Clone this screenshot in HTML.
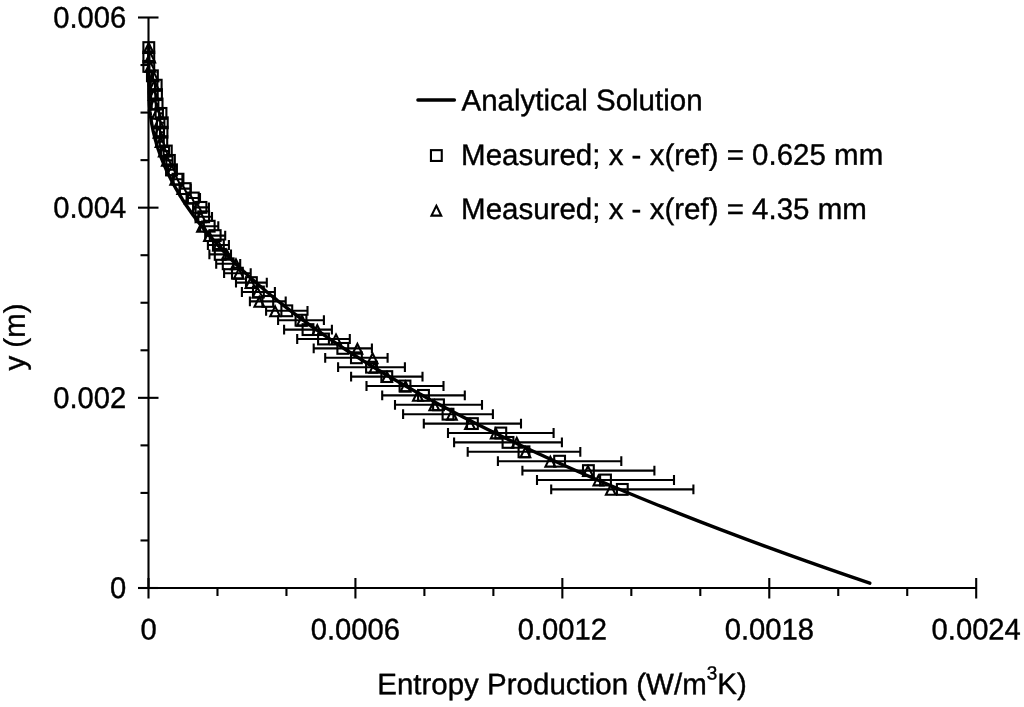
<!DOCTYPE html>
<html lang="en"><head><meta charset="utf-8"><title>Entropy Production</title>
<style>html,body{margin:0;padding:0;background:#fff}body{width:1024px;height:707px;overflow:hidden}</style>
</head><body>
<svg width="1024" height="707" viewBox="0 0 1024 707" style="display:block;will-change:transform;transform:translateZ(0)">
<rect width="1024" height="707" fill="#fff"/>
<g stroke="#000" stroke-width="2.1" fill="none" stroke-linecap="butt">
<line x1="148.5" y1="17.5" x2="148.5" y2="588.0"/>
<line x1="148.5" y1="588.0" x2="976.2" y2="588.0"/>
<line x1="138.0" y1="588.0" x2="158.5" y2="588.0"/>
<line x1="140.5" y1="540.4583333333334" x2="148.5" y2="540.4583333333334"/>
<line x1="140.5" y1="492.9166666666667" x2="148.5" y2="492.9166666666667"/>
<line x1="140.5" y1="445.375" x2="148.5" y2="445.375"/>
<line x1="138.0" y1="397.83333333333337" x2="158.5" y2="397.83333333333337"/>
<line x1="140.5" y1="350.29166666666663" x2="148.5" y2="350.29166666666663"/>
<line x1="140.5" y1="302.75" x2="148.5" y2="302.75"/>
<line x1="140.5" y1="255.20833333333331" x2="148.5" y2="255.20833333333331"/>
<line x1="138.0" y1="207.66666666666669" x2="158.5" y2="207.66666666666669"/>
<line x1="140.5" y1="160.125" x2="148.5" y2="160.125"/>
<line x1="140.5" y1="112.58333333333331" x2="148.5" y2="112.58333333333331"/>
<line x1="140.5" y1="65.04166666666663" x2="148.5" y2="65.04166666666663"/>
<line x1="138.0" y1="17.5" x2="158.5" y2="17.5"/>
<line x1="148.5" y1="578.0" x2="148.5" y2="598.5"/>
<line x1="217.47500000000002" y1="588.0" x2="217.47500000000002" y2="596.0"/>
<line x1="286.45000000000005" y1="588.0" x2="286.45000000000005" y2="596.0"/>
<line x1="355.42500000000007" y1="578.0" x2="355.42500000000007" y2="598.5"/>
<line x1="424.40000000000003" y1="588.0" x2="424.40000000000003" y2="596.0"/>
<line x1="493.375" y1="588.0" x2="493.375" y2="596.0"/>
<line x1="562.3500000000001" y1="578.0" x2="562.3500000000001" y2="598.5"/>
<line x1="631.325" y1="588.0" x2="631.325" y2="596.0"/>
<line x1="700.3000000000001" y1="588.0" x2="700.3000000000001" y2="596.0"/>
<line x1="769.275" y1="578.0" x2="769.275" y2="598.5"/>
<line x1="838.25" y1="588.0" x2="838.25" y2="596.0"/>
<line x1="907.225" y1="588.0" x2="907.225" y2="596.0"/>
<line x1="976.2000000000002" y1="578.0" x2="976.2000000000002" y2="598.5"/>
</g>
<g stroke="#000" stroke-width="2.1" fill="none">
<path d="M551.2 489.4H693.4M551.2 484.5v9.8M693.4 484.5v9.8"/>
<path d="M537.0 480.0H674.0M537.0 475.1v9.8M674.0 475.1v9.8"/>
<path d="M522.4 470.6H654.4M522.4 465.7v9.8M654.4 465.7v9.8"/>
<path d="M497.9 461.2H621.3M497.9 456.3v9.8M621.3 456.3v9.8"/>
<path d="M467.7 451.8H580.3M467.7 446.9v9.8M580.3 446.9v9.8"/>
<path d="M454.1 442.4H561.9M454.1 437.5v9.8M561.9 437.5v9.8"/>
<path d="M448.0 433.0H553.6M448.0 428.1v9.8M553.6 428.1v9.8"/>
<path d="M423.8 423.6H521.0M423.8 418.7v9.8M521.0 418.7v9.8"/>
<path d="M403.1 414.2H492.9M403.1 409.3v9.8M492.9 409.3v9.8"/>
<path d="M395.0 404.8H482.0M395.0 399.9v9.8M482.0 399.9v9.8"/>
<path d="M382.2 395.4H464.8M382.2 390.5v9.8M464.8 390.5v9.8"/>
<path d="M366.5 386.0H443.5M366.5 381.1v9.8M443.5 381.1v9.8"/>
<path d="M351.1 376.6H422.5M351.1 371.7v9.8M422.5 371.7v9.8"/>
<path d="M338.1 367.2H404.9M338.1 362.3v9.8M404.9 362.3v9.8"/>
<path d="M325.2 357.8H387.6M325.2 352.9v9.8M387.6 352.9v9.8"/>
<path d="M313.7 348.4H371.9M313.7 343.5v9.8M371.9 343.5v9.8"/>
<path d="M297.2 339.0H349.8M297.2 334.1v9.8M349.8 334.1v9.8"/>
<path d="M284.1 329.6H331.9M284.1 324.7v9.8M331.9 324.7v9.8"/>
<path d="M278.1 320.2H323.9M278.1 315.3v9.8M323.9 315.3v9.8"/>
<path d="M266.1 310.8H307.5M266.1 305.9v9.8M307.5 305.9v9.8"/>
<path d="M249.9 301.4H285.7M249.9 296.5v9.8M285.7 296.5v9.8"/>
<path d="M241.9 292.0H274.9M241.9 287.1v9.8M274.9 287.1v9.8"/>
<path d="M236.0 282.6H266.8M236.0 277.7v9.8M266.8 277.7v9.8"/>
<path d="M224.1 273.2H250.7M224.1 268.3v9.8M250.7 268.3v9.8"/>
<path d="M216.2 263.8H240.2M216.2 258.9v9.8M240.2 258.9v9.8"/>
<path d="M209.4 254.4H231.0M209.4 249.5v9.8M231.0 249.5v9.8"/>
<path d="M207.9 245.0H228.9M207.9 240.1v9.8M228.9 240.1v9.8"/>
<path d="M205.2 235.6H225.2M205.2 230.7v9.8M225.2 230.7v9.8"/>
<path d="M200.1 226.2H218.3M200.1 221.3v9.8M218.3 221.3v9.8"/>
<path d="M195.4 216.8H212.0M195.4 211.9v9.8M212.0 211.9v9.8"/>
<path d="M193.1 207.4H208.9M193.1 202.5v9.8M208.9 202.5v9.8"/>
<path d="M186.6 198.0H200.0M186.6 193.1v9.8M200.0 193.1v9.8"/>
<path d="M179.7 188.6H190.7M179.7 183.7v9.8M190.7 183.7v9.8"/>
<path d="M173.6 179.2H182.4M173.6 174.3v9.8M182.4 174.3v9.8"/>
<path d="M168.1 169.8H174.9M168.1 164.9v9.8M174.9 164.9v9.8"/>
<path d="M166.3 160.4H172.5M166.3 155.5v9.8M172.5 155.5v9.8"/>
<path d="M163.6 151.0H169.0M163.6 146.1v9.8M169.0 146.1v9.8"/>
<path d="M159.8 141.6H163.8M159.8 136.7v9.8M163.8 136.7v9.8"/>
<path d="M160.0 132.2H164.0M160.0 127.3v9.8M164.0 127.3v9.8"/>
<path d="M160.2 122.8H164.4M160.2 117.9v9.8M164.4 117.9v9.8"/>
<path d="M159.1 113.4H162.9M159.1 108.5v9.8M162.9 108.5v9.8"/>
<path d="M155.8 104.0H158.4M155.8 99.1v9.8M158.4 99.1v9.8"/>
<path d="M155.3 94.6H157.7M155.3 89.7v9.8M157.7 89.7v9.8"/>
<path d="M155.0 85.2H157.4M155.0 80.3v9.8M157.4 80.3v9.8"/>
<path d="M151.8 75.8H153.0M151.8 70.9v9.8M153.0 70.9v9.8"/>
</g>
<g stroke="#000" stroke-width="2.1" fill="none" stroke-linejoin="miter">
<rect x="616.90" y="484.00" width="10.8" height="10.8"/>
<rect x="600.10" y="474.60" width="10.8" height="10.8"/>
<rect x="583.00" y="465.20" width="10.8" height="10.8"/>
<rect x="554.20" y="455.80" width="10.8" height="10.8"/>
<rect x="518.60" y="446.40" width="10.8" height="10.8"/>
<rect x="502.60" y="437.00" width="10.8" height="10.8"/>
<rect x="495.40" y="427.60" width="10.8" height="10.8"/>
<rect x="467.00" y="418.20" width="10.8" height="10.8"/>
<rect x="442.60" y="408.80" width="10.8" height="10.8"/>
<rect x="433.10" y="399.40" width="10.8" height="10.8"/>
<rect x="418.10" y="390.00" width="10.8" height="10.8"/>
<rect x="399.60" y="380.60" width="10.8" height="10.8"/>
<rect x="381.40" y="371.20" width="10.8" height="10.8"/>
<rect x="366.10" y="361.80" width="10.8" height="10.8"/>
<rect x="351.00" y="352.40" width="10.8" height="10.8"/>
<rect x="337.40" y="343.00" width="10.8" height="10.8"/>
<rect x="318.10" y="333.60" width="10.8" height="10.8"/>
<rect x="302.60" y="324.20" width="10.8" height="10.8"/>
<rect x="295.60" y="314.80" width="10.8" height="10.8"/>
<rect x="281.40" y="305.40" width="10.8" height="10.8"/>
<rect x="262.40" y="296.00" width="10.8" height="10.8"/>
<rect x="253.00" y="286.60" width="10.8" height="10.8"/>
<rect x="246.00" y="277.20" width="10.8" height="10.8"/>
<rect x="232.00" y="267.80" width="10.8" height="10.8"/>
<rect x="222.80" y="258.40" width="10.8" height="10.8"/>
<rect x="214.80" y="249.00" width="10.8" height="10.8"/>
<rect x="213.00" y="239.60" width="10.8" height="10.8"/>
<rect x="209.80" y="230.20" width="10.8" height="10.8"/>
<rect x="203.80" y="220.80" width="10.8" height="10.8"/>
<rect x="198.30" y="211.40" width="10.8" height="10.8"/>
<rect x="195.60" y="202.00" width="10.8" height="10.8"/>
<rect x="187.90" y="192.60" width="10.8" height="10.8"/>
<rect x="179.80" y="183.20" width="10.8" height="10.8"/>
<rect x="172.60" y="173.80" width="10.8" height="10.8"/>
<rect x="166.10" y="164.40" width="10.8" height="10.8"/>
<rect x="164.00" y="155.00" width="10.8" height="10.8"/>
<rect x="160.90" y="145.60" width="10.8" height="10.8"/>
<rect x="156.40" y="136.20" width="10.8" height="10.8"/>
<rect x="156.60" y="126.80" width="10.8" height="10.8"/>
<rect x="156.90" y="117.40" width="10.8" height="10.8"/>
<rect x="155.60" y="108.00" width="10.8" height="10.8"/>
<rect x="151.70" y="98.60" width="10.8" height="10.8"/>
<rect x="151.10" y="89.20" width="10.8" height="10.8"/>
<rect x="150.80" y="79.80" width="10.8" height="10.8"/>
<rect x="147.00" y="70.40" width="10.8" height="10.8"/>
<rect x="143.40" y="61.00" width="10.8" height="10.8"/>
<rect x="143.40" y="51.60" width="10.8" height="10.8"/>
<rect x="143.40" y="42.20" width="10.8" height="10.8"/>
<path d="M610.80 484.98L615.67 494.80H605.93Z"/>
<path d="M598.40 475.58L603.27 485.40H593.53Z"/>
<path d="M588.00 466.18L592.87 476.00H583.13Z"/>
<path d="M550.30 456.78L555.17 466.60H545.43Z"/>
<path d="M525.40 447.38L530.27 457.20H520.53Z"/>
<path d="M516.80 437.98L521.67 447.80H511.93Z"/>
<path d="M495.70 428.58L500.57 438.40H490.83Z"/>
<path d="M470.00 419.18L474.87 429.00H465.13Z"/>
<path d="M451.90 409.78L456.77 419.60H447.03Z"/>
<path d="M434.30 400.38L439.17 410.20H429.43Z"/>
<path d="M417.90 390.98L422.77 400.80H413.03Z"/>
<path d="M405.50 381.58L410.37 391.40H400.63Z"/>
<path d="M387.00 372.18L391.87 382.00H382.13Z"/>
<path d="M374.50 362.78L379.37 372.60H369.63Z"/>
<path d="M372.60 353.38L377.47 363.20H367.73Z"/>
<path d="M357.40 343.98L362.27 353.80H352.53Z"/>
<path d="M336.00 334.58L340.87 344.40H331.13Z"/>
<path d="M317.30 325.18L322.17 335.00H312.43Z"/>
<path d="M302.00 315.78L306.87 325.60H297.13Z"/>
<path d="M275.10 306.38L279.97 316.20H270.23Z"/>
<path d="M259.30 296.98L264.17 306.80H254.43Z"/>
<path d="M257.50 287.58L262.37 297.40H252.63Z"/>
<path d="M250.50 278.18L255.37 288.00H245.63Z"/>
<path d="M238.80 268.78L243.67 278.60H233.93Z"/>
<path d="M235.99 259.38L240.86 269.20H231.12Z"/>
<path d="M226.83 249.98L231.70 259.80H221.96Z"/>
<path d="M218.11 240.58L222.98 250.40H213.24Z"/>
<path d="M209.00 231.18L213.87 241.00H204.13Z"/>
<path d="M201.99 221.78L206.86 231.60H197.12Z"/>
<path d="M200.71 212.38L205.58 222.20H195.84Z"/>
<path d="M196.93 202.98L201.80 212.80H192.06Z"/>
<path d="M189.76 193.58L194.63 203.40H184.89Z"/>
<path d="M182.23 184.18L187.10 194.00H177.36Z"/>
<path d="M175.22 174.78L180.09 184.60H170.35Z"/>
<path d="M171.80 165.38L176.67 175.20H166.93Z"/>
<path d="M166.84 155.98L171.71 165.80H161.97Z"/>
<path d="M163.78 146.58L168.65 156.40H158.91Z"/>
<path d="M160.56 137.18L165.43 147.00H155.69Z"/>
<path d="M158.55 127.78L163.42 137.60H153.68Z"/>
<path d="M158.89 118.38L163.76 128.20H154.02Z"/>
<path d="M156.92 108.98L161.79 118.80H152.05Z"/>
<path d="M154.00 99.58L158.87 109.40H149.13Z"/>
<path d="M153.69 90.18L158.56 100.00H148.82Z"/>
<path d="M154.34 80.78L159.21 90.60H149.47Z"/>
<path d="M153.40 71.38L158.27 81.20H148.53Z"/>
<path d="M150.40 61.98L155.27 71.80H145.53Z"/>
<path d="M150.20 52.58L155.07 62.40H145.33Z"/>
<path d="M148.70 43.18L153.57 53.00H143.83Z"/>
</g>
<path d="M148.8 45.2 L148.8 47.2 L148.8 49.2 L148.8 51.2 L148.8 53.2 L148.8 55.2 L148.8 57.2 L148.8 59.2 L148.8 61.2 L148.8 63.2 L148.8 65.2 L148.8 67.2 L148.8 69.2 L148.8 71.2 L148.8 73.2 L148.8 75.2 L148.8 77.2 L148.8 79.2 L148.8 81.2 L148.8 83.2 L148.8 85.2 L148.9 87.2 L148.9 89.2 L148.9 91.2 L148.9 93.2 L149.0 95.2 L149.0 97.2 L149.1 99.2 L149.2 101.2 L149.3 103.2 L149.4 105.2 L149.6 107.2 L149.8 109.2 L149.9 111.2 L150.2 113.2 L150.4 115.2 L150.7 117.2 L151.0 119.2 L151.3 121.2 L151.6 123.2 L152.0 125.2 L152.4 127.2 L152.8 129.2 L153.2 131.2 L153.7 133.2 L154.2 135.2 L154.7 137.2 L155.2 139.2 L155.8 141.2 L156.3 143.2 L156.9 145.2 L157.6 147.2 L158.2 149.2 L158.9 151.2 L159.6 153.2 L160.3 155.2 L161.1 157.2 L161.8 159.2 L162.6 161.2 L163.4 163.2 L164.3 165.2 L165.2 167.2 L166.0 169.2 L167.0 171.2 L167.9 173.2 L168.9 175.2 L169.9 177.2 L170.9 179.2 L171.9 181.2 L173.0 183.2 L174.1 185.2 L175.2 187.2 L176.3 189.2 L177.5 191.2 L178.6 193.2 L179.8 195.2 L181.1 197.2 L182.3 199.2 L183.6 201.2 L184.9 203.2 L186.2 205.2 L187.6 207.2 L189.0 209.2 L190.4 211.2 L191.8 213.2 L193.2 215.2 L194.7 217.2 L196.2 219.2 L197.7 221.2 L199.3 223.2 L200.8 225.2 L202.4 227.2 L204.0 229.2 L205.7 231.2 L207.3 233.2 L209.0 235.2 L210.7 237.2 L212.5 239.2 L214.2 241.2 L216.0 243.2 L217.8 245.2 L219.7 247.2 L221.5 249.2 L223.4 251.2 L225.3 253.2 L227.2 255.2 L229.2 257.2 L231.2 259.2 L233.2 261.2 L235.2 263.2 L237.2 265.2 L239.3 267.2 L241.4 269.2 L243.5 271.2 L245.7 273.2 L247.8 275.2 L250.0 277.2 L252.2 279.2 L254.5 281.2 L256.8 283.2 L259.0 285.2 L261.4 287.2 L263.7 289.2 L266.1 291.2 L268.5 293.2 L270.9 295.2 L273.3 297.2 L275.8 299.2 L278.2 301.2 L280.8 303.2 L283.3 305.2 L285.8 307.2 L288.4 309.2 L291.0 311.2 L293.7 313.2 L296.3 315.2 L299.0 317.2 L301.7 319.2 L304.4 321.2 L307.2 323.2 L309.9 325.2 L312.7 327.2 L315.5 329.2 L318.4 331.2 L321.3 333.2 L324.2 335.2 L327.1 337.2 L330.0 339.2 L333.0 341.2 L336.0 343.2 L339.0 345.2 L342.0 347.2 L345.1 349.2 L348.2 351.2 L351.3 353.2 L354.4 355.2 L357.6 357.2 L360.8 359.2 L364.0 361.2 L367.2 363.2 L370.4 365.2 L373.7 367.2 L377.0 369.2 L380.4 371.2 L383.7 373.2 L387.1 375.2 L390.5 377.2 L393.9 379.2 L397.4 381.2 L400.8 383.2 L404.3 385.2 L407.8 387.2 L411.4 389.2 L415.0 391.2 L418.6 393.2 L422.2 395.2 L425.8 397.2 L429.5 399.2 L433.2 401.2 L436.9 403.2 L440.6 405.2 L444.4 407.2 L448.2 409.2 L452.0 411.2 L455.8 413.2 L459.7 415.2 L463.5 417.2 L467.5 419.2 L471.4 421.2 L475.3 423.2 L479.3 425.2 L483.3 427.2 L487.3 429.2 L491.4 431.2 L495.5 433.2 L499.6 435.2 L503.7 437.2 L507.8 439.2 L512.0 441.2 L516.2 443.2 L520.4 445.2 L524.7 447.2 L528.9 449.2 L533.2 451.2 L537.5 453.2 L541.9 455.2 L546.2 457.2 L550.6 459.2 L555.0 461.2 L559.5 463.2 L563.9 465.2 L568.4 467.2 L572.9 469.2 L577.5 471.2 L582.0 473.2 L586.6 475.2 L591.2 477.2 L595.8 479.2 L600.5 481.2 L605.2 483.2 L609.9 485.2 L614.6 487.2 L619.4 489.2 L624.1 491.2 L628.9 493.2 L633.8 495.2 L638.6 497.2 L643.5 499.2 L648.4 501.2 L653.3 503.2 L658.2 505.2 L663.2 507.2 L668.2 509.2 L673.2 511.2 L678.2 513.2 L683.3 515.2 L688.4 517.2 L693.5 519.2 L698.6 521.2 L703.8 523.2 L709.0 525.2 L714.2 527.2 L719.4 529.2 L724.7 531.2 L730.0 533.2 L735.3 535.2 L740.6 537.2 L745.9 539.2 L751.3 541.2 L756.7 543.2 L762.1 545.2 L767.6 547.2 L773.1 549.2 L778.6 551.2 L784.1 553.2 L789.6 555.2 L795.2 557.2 L800.8 559.2 L806.4 561.2 L812.1 563.2 L817.7 565.2 L823.4 567.2 L829.1 569.2 L834.9 571.2 L840.6 573.2 L846.4 575.2 L852.2 577.2 L858.1 579.2 L863.9 581.2 L869.8 583.2" stroke="#000" stroke-width="3.4" fill="none" stroke-linejoin="round" stroke-linecap="round"/>
<line x1="417.9" y1="100" x2="454.4" y2="100" stroke="#000" stroke-width="3.4" stroke-linecap="round"/>
<rect x="430.95" y="150.15" width="10.8" height="10.8" stroke="#000" stroke-width="2.1" fill="none"/>
<path d="M436.35 205.8L441.22 215.65H431.48Z" stroke="#000" stroke-width="2.1" fill="none"/>
<g font-family="'Liberation Sans', Arial, Helvetica, sans-serif" font-size="29.5" fill="#000" stroke="#000" stroke-width="0.4" text-rendering="geometricPrecision">
<text transform="translate(461.5 110.4) rotate(-0.03) scale(1 1.005)">Analytical Solution</text>
<text transform="translate(461.1 165.0) rotate(-0.03) scale(1 1.005)">Measured; x - x(ref) = 0.625 mm</text>
<text transform="translate(461.1 219.1) rotate(-0.03) scale(1 1.005)">Measured; x - x(ref) = 4.35 mm</text>
<text transform="translate(126.3 27.6) rotate(-0.03) scale(1 1.025)" text-anchor="end" font-size="29.2">0.006</text>
<text transform="translate(126.3 217.8) rotate(-0.03) scale(1 1.025)" text-anchor="end" font-size="29.2">0.004</text>
<text transform="translate(126.3 407.9) rotate(-0.03) scale(1 1.025)" text-anchor="end" font-size="29.2">0.002</text>
<text transform="translate(126.3 598.1) rotate(-0.03) scale(1 1.025)" text-anchor="end" font-size="29.2">0</text>
<text transform="translate(148.5 639.6) rotate(-0.03) scale(1 1.025)" text-anchor="middle" font-size="29.2">0</text>
<text transform="translate(355.4 639.6) rotate(-0.03) scale(1 1.025)" text-anchor="middle" font-size="29.2">0.0006</text>
<text transform="translate(562.4 639.6) rotate(-0.03) scale(1 1.025)" text-anchor="middle" font-size="29.2">0.0012</text>
<text transform="translate(769.3 639.6) rotate(-0.03) scale(1 1.025)" text-anchor="middle" font-size="29.2">0.0018</text>
<text transform="translate(976.2 639.6) rotate(-0.03) scale(1 1.025)" text-anchor="middle" font-size="29.2">0.0024</text>
<text transform="translate(562 694.2) rotate(-0.03) scale(1 1.005)" text-anchor="middle">Entropy Production (W/m<tspan font-size="19" dy="-14.5">3</tspan><tspan dy="14.5">K)</tspan></text>
<text transform="translate(24.8 337.0) rotate(-90.03) scale(1 1.005)" text-anchor="middle">y (m)</text>
</g>
</svg>
</body></html>
